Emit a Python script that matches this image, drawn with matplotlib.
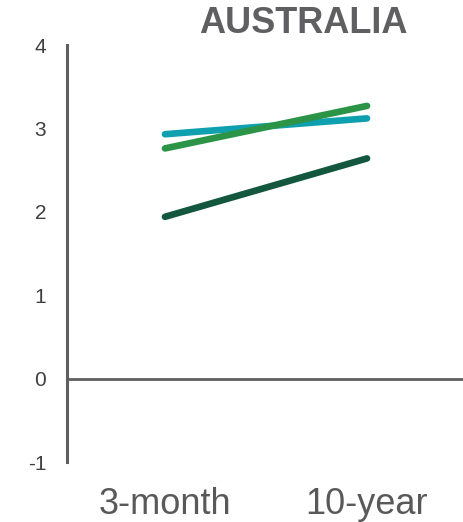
import matplotlib.pyplot as plt

# Yields by maturity, three series
maturities = ['3-month', '10-year']
series_teal = [2.93, 3.12]
series_green = [2.76, 3.27]
series_dark = [1.94, 2.64]
colors = ['#0FA0AF', '#2C9446', '#13573F']
y_ticks = [-1, 0, 1, 2, 3, 4]

plt.rcParams['font.family'] = ['Liberation Sans', 'DejaVu Sans']

fig = plt.figure(figsize=(4.64, 5.22), dpi=100)
ax = fig.add_axes([67 / 464, 1 - 462 / 522, 1 - 67 / 464, (462 - 45) / 522])

x = range(len(maturities))
for vals, c in zip([series_teal, series_green, series_dark], colors):
    ax.plot(x, vals, color=c, lw=4.8, solid_capstyle='round')

ax.axhline(0, color='#5f5f5f', lw=2.0, zorder=0)

ax.set_xlim(-0.485, 1.48)
ax.set_ylim(-1, 4)
ax.set_yticks(y_ticks)
ax.set_yticklabels([str(v) for v in y_ticks])
ax.set_xticks(list(x))
ax.set_xticklabels(maturities)

for s in ['top', 'right', 'bottom']:
    ax.spines[s].set_visible(False)
ax.spines['left'].set_color('#5f5f5f')
ax.spines['left'].set_linewidth(2.2)

ax.tick_params(axis='y', length=0, pad=15, labelsize=15, labelcolor='#404040')
ax.tick_params(axis='x', length=0, pad=18, labelsize=26, labelcolor='#595959')

fig.text(303 / 464, 1 - 24 / 522, 'AUSTRALIA', ha='center', va='center',
         fontsize=26, fontweight='bold', color='#5f5f62')

fig.savefig('out.png', dpi=100)
